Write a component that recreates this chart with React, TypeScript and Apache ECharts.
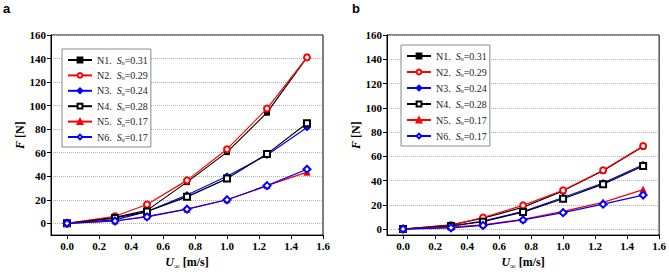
import React, { useEffect, useRef } from "react";
import * as echarts from "echarts";

// ---- data ----
const xValues = [0, 0.3, 0.5, 0.75, 1.0, 1.25, 1.5];
const xTicks = [0, 0.2, 0.4, 0.6, 0.8, 1.0, 1.2, 1.4, 1.6];
const yTicks = [0, 20, 40, 60, 80, 100, 120, 140, 160];
const seriesNames = ["N1", "N2", "N3", "N4", "N5", "N6"];
const snValues = ["0.31", "0.29", "0.24", "0.28", "0.17", "0.17"];

const aN1 = [0, 5, 11, 35, 60.5, 94, 141];
const aN2 = [0, 6, 16, 36.5, 63, 97.5, 141];
const aN3 = [0, 3, 10, 24, 40, 58, 81.5];
const aN4 = [0, 4.5, 10, 22.5, 38, 59, 85];
const aN5 = [0, 2, 6, 12, 20, 32, 43.5];
const aN6 = [0, 2, 5.5, 12, 20, 32, 46];

const bN1 = [0, 3.5, 9, 18, 31.5, 48, 68];
const bN2 = [0, 3, 9.5, 19.5, 32, 48.5, 68.5];
const bN3 = [0, 2.5, 6.5, 14.5, 26, 38, 53];
const bN4 = [0, 2.5, 6, 14, 25, 37, 52];
const bN5 = [0, 1.5, 3.5, 8, 14.5, 22, 32.5];
const bN6 = [0, 1, 3, 7.5, 13.5, 20.5, 28];

const panelA = [aN1, aN2, aN3, aN4, aN5, aN6];
const panelB = [bN1, bN2, bN3, bN4, bN5, bN6];

// ---- styles ----
const colors = ["#000000", "#ff0000", "#0000ff", "#000000", "#ff0000", "#0000ff"];
const symbols = ["rect", "emptyCircle", "diamond", "emptyRect", "triangle", "emptyDiamond"];
const symbolSizes = [5, 6, 7, 6, 6, 7];

const SERIF = "'Liberation Serif', 'Times New Roman', serif";

function makeSeries(values: number[][], idx: number) {
  return values.map((arr, i) => ({
    type: "line",
    name: seriesNames[i],
    xAxisIndex: idx,
    yAxisIndex: idx,
    data: arr.map((v, j) => [xValues[j], v]),
    symbol: symbols[i],
    symbolSize: symbolSizes[i],
    lineStyle: { color: colors[i], width: 1.2 },
    itemStyle: { color: colors[i], borderColor: colors[i], borderWidth: 1 },
    z: 3 + i,
  }));
}

function makeXAxis(gridIndex: number) {
  return {
    type: "value",
    gridIndex,
    min: -0.1,
    max: 1.6,
    axisLine: { show: true, onZero: false, lineStyle: { color: "#000", width: 1 } },
    axisTick: { show: true, customValues: xTicks, length: 4, lineStyle: { color: "#000" } },
    axisLabel: {
      customValues: xTicks,
      formatter: (v: number) => v.toFixed(1),
      fontFamily: SERIF,
      fontWeight: "bold",
      fontSize: 11,
      color: "#000",
      margin: 5,
    },
    splitLine: { show: false },
    name: "{it|U}{sub|∞} [m/s]",
    nameLocation: "middle",
    nameGap: 18,
    nameTextStyle: {
      fontFamily: SERIF,
      fontWeight: "bold",
      fontSize: 12,
      color: "#000",
      rich: {
        it: { fontFamily: SERIF, fontWeight: "bold", fontStyle: "italic", fontSize: 12, color: "#000" },
        sub: { fontFamily: SERIF, fontWeight: "bold", fontSize: 8, color: "#000", padding: [8, 0, 0, 0] },
      },
    },
  };
}

function makeYAxis(gridIndex: number, min: number) {
  return {
    type: "value",
    gridIndex,
    min,
    max: 160,
    axisLine: { show: true, onZero: false, lineStyle: { color: "#000", width: 1 } },
    axisTick: { show: true, customValues: yTicks, length: 4, lineStyle: { color: "#000" } },
    axisLabel: {
      customValues: yTicks,
      fontFamily: SERIF,
      fontWeight: "bold",
      fontSize: 11,
      color: "#000",
      margin: 5,
    },
    splitLine: { show: true, lineStyle: { color: "#b0b0b0", type: "dotted", width: 1 } },
    name: "{it|F} [N]",
    nameLocation: "middle",
    nameRotate: 90,
    nameGap: 24,
    nameTextStyle: {
      fontFamily: SERIF,
      fontWeight: "bold",
      fontSize: 12,
      color: "#000",
      rich: {
        it: { fontFamily: SERIF, fontWeight: "bold", fontStyle: "italic", fontSize: 12, color: "#000" },
      },
    },
  };
}

function makeLegend(left: number, top: number, gap: number) {
  return {
    orient: "vertical",
    left,
    top,
    backgroundColor: "#fff",
    borderColor: "#888",
    borderWidth: 1,
    padding: [5, 3, 4, 5],
    itemWidth: 24,
    itemHeight: 6,
    itemGap: gap,
    selectedMode: false,
    data: seriesNames,
    formatter: (name: string) => {
      const i = seriesNames.indexOf(name);
      return `${name}.  {it|S}{sub|n}{t|=${snValues[i]}}`;
    },
    textStyle: {
      fontFamily: SERIF,
      fontSize: 10,
      color: "#222",
      lineHeight: 12,
      rich: {
        it: { fontFamily: SERIF, fontStyle: "italic", fontSize: 10, color: "#222", lineHeight: 12 },
        sub: { fontFamily: SERIF, fontStyle: "italic", fontSize: 6, color: "#222", padding: [6, 0, 0, 0] },
        t: { fontFamily: SERIF, fontSize: 10, color: "#222", lineHeight: 12 },
      },
    },
  };
}

export default function App() {
  const ref = useRef<HTMLDivElement>(null);
  useEffect(() => {
    if (!ref.current) return;
    const chart = echarts.init(ref.current, undefined, { renderer: "svg" });
    chart.setOption({
      animation: false,
      backgroundColor: "#fff",
      grid: [
        { left: 51, top: 35, width: 272, height: 202, show: true, borderColor: "#000", borderWidth: 1, backgroundColor: "transparent" },
        { left: 387, top: 35, width: 275, height: 204, show: true, borderColor: "#000", borderWidth: 1, backgroundColor: "transparent" },
      ],
      xAxis: [makeXAxis(0), makeXAxis(1)],
      yAxis: [makeYAxis(0, -10), makeYAxis(1, -5)],
      legend: [makeLegend(62, 49, 3.4), makeLegend(401, 45, 4)],
      graphic: [
        { type: "text", left: 3, top: 2, style: { text: "a", font: "bold 13px 'Liberation Sans', Arial, sans-serif", fill: "#000" } },
        { type: "text", left: 352, top: 2, style: { text: "b", font: "bold 13px 'Liberation Sans', Arial, sans-serif", fill: "#000" } },
      ],
      series: [...makeSeries(panelA, 0), ...makeSeries(panelB, 1)],
    });
    return () => chart.dispose();
  }, []);
  return (
    <div
      ref={ref}
      style={{ position: "fixed", left: 0, top: 0, width: 669, height: 275, background: "#fff" }}
    />
  );
}
